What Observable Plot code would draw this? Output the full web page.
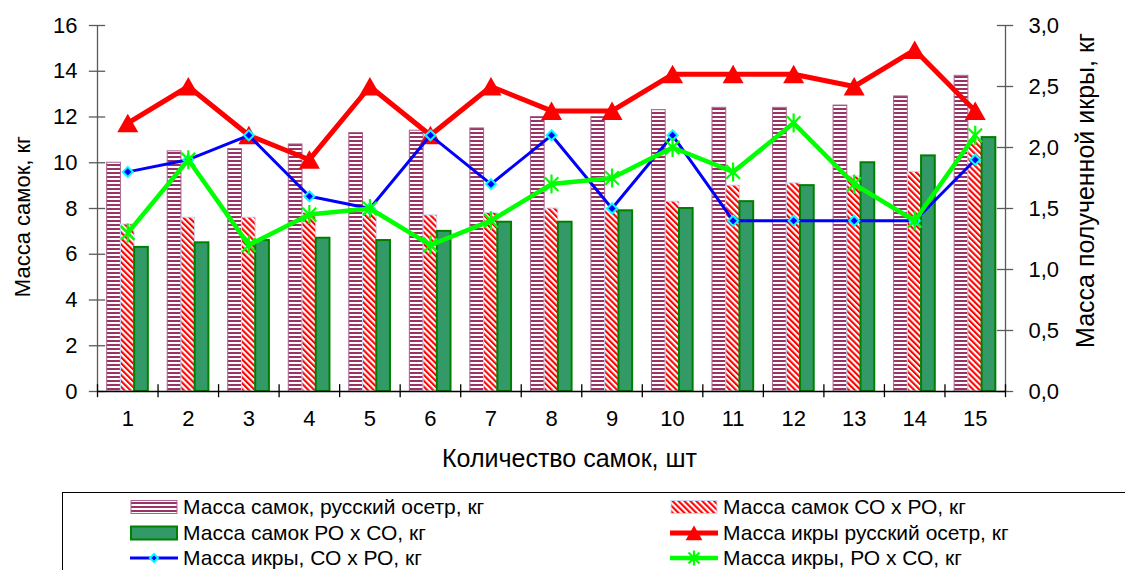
<!DOCTYPE html>
<html>
<head>
<meta charset="utf-8">
<script src="https://cdn.jsdelivr.net/npm/d3@7"></script>
<script src="https://cdn.jsdelivr.net/npm/@observablehq/plot@0.6"></script>
<style>
  html, body { margin: 0; padding: 0; background: #fff; overflow: hidden; }
  body { width: 1125px; height: 570px; position: relative; font-family: "Liberation Sans", Arial, sans-serif; }
  #chart svg { display: block; }
  #legend { position: absolute; left: 62px; top: 492px; width: 1100px; height: 120px;
            border: 1.5px solid #000; box-sizing: border-box; background: #fff; }
  .item { position: absolute; height: 26px; display: flex; align-items: center; white-space: nowrap;
          font-size: 21px; color: #000; }
  .item svg { flex: none; }
  .item span { margin-left: 5px; }
</style>
</head>
<body>
<div id="chart"></div>
<div id="legend"></div>
<script>
// Number of the female (x axis)
const counts = [1, 2, 3, 4, 5, 6, 7, 8, 9, 10, 11, 12, 13, 14, 15];

// Female mass, kg (left axis)
const femaleRussian = [10.0, 10.5, 10.6, 10.8, 11.3, 11.4, 11.5, 12.0, 12.0, 12.3, 12.4, 12.4, 12.5, 12.9, 13.8];
const femaleSoRo    = [7.3, 7.6, 7.6, 7.8, 7.8, 7.7, 7.8, 8.0, 8.0, 8.3, 9.0, 9.1, 9.4, 9.6, 11.0];
const femaleRoSo    = [6.3, 6.5, 6.6, 6.7, 6.6, 7.0, 7.4, 7.4, 7.9, 8.0, 8.3, 9.0, 10.0, 10.3, 11.1];

// Roe mass, kg (right axis)
const roeRussian = [2.2, 2.5, 2.1, 1.9, 2.5, 2.1, 2.5, 2.3, 2.3, 2.6, 2.6, 2.6, 2.5, 2.8, 2.3];
const roeSoRo    = [1.8, 1.9, 2.1, 1.6, 1.5, 2.1, 1.7, 2.1, 1.5, 2.1, 1.4, 1.4, 1.4, 1.4, 1.9];
const roeRoSo    = [1.3, 1.9, 1.2, 1.45, 1.5, 1.2, 1.4, 1.7, 1.75, 2.0, 1.8, 2.2, 1.7, 1.4, 2.1];

const leftTicks  = [0, 2, 4, 6, 8, 10, 12, 14, 16];
const rightTicks = [0, 0.5, 1.0, 1.5, 2.0, 2.5, 3.0];

const seriesNames = {
  femaleRussian: "Масса самок, русский осетр, кг",
  femaleSoRo: "Масса самок СО х РО, кг",
  femaleRoSo: "Масса самок РО х СО, кг",
  roeRussian: "Масса икры русский осетр, кг",
  roeSoRo: "Масса икры, СО х РО, кг",
  roeRoSo: "Масса икры, РО х СО, кг"
};
const titles = {
  left: "Масса самок, кг",
  right: "Масса полученной икры, кг",
  x: "Количество самок, шт"
};

// Right axis values are drawn on the left scale
const leftMax = 16, rightMax = 3;
const K = leftMax / rightMax;

// Bar geometry inside each category (in x units)
const groupStart = -0.34, barW = 0.2267;

// Marker shapes
const triangleUp = { draw(ctx, size) { const r = Math.sqrt(size / Math.PI);
  ctx.moveTo(0, -0.9 * r); ctx.lineTo(r, 0.86 * r); ctx.lineTo(-r, 0.86 * r); ctx.closePath(); } };
const diamond = { draw(ctx, size) { const r = Math.sqrt(size / Math.PI);
  ctx.moveTo(0, -r); ctx.lineTo(r, 0); ctx.lineTo(0, r); ctx.lineTo(-r, 0); ctx.closePath(); } };
const star = { draw(ctx, size) { const r = Math.sqrt(size / Math.PI), q = 0.72 * r;
  ctx.moveTo(0, -r); ctx.lineTo(0, r);
  ctx.moveTo(-q, -q); ctx.lineTo(q, q);
  ctx.moveTo(q, -q); ctx.lineTo(-q, q); } };

const styles = {
  bar1: { fill: "url(#hstripes)", stroke: "#a8628c", strokeWidth: 1 },
  bar2: { fill: "url(#dstripes)", stroke: "#c6d9f1", strokeWidth: 1 },
  bar3: { fill: "#339966", stroke: "#008000", strokeWidth: 2 },
  red:   { line: "#ff0000", width: 5, symbol: triangleUp, r: 10.5, fill: "#ff0000", stroke: "none", sw: 0 },
  blue:  { line: "#0000ff", width: 3, symbol: diamond, r: 5, fill: "#0000ff", stroke: "#00ffff", sw: 2 },
  green: { line: "#00ff00", width: 4.5, symbol: star, r: 9.5, fill: "none", stroke: "#00ff00", sw: 2.2 }
};

function patternDefs() {
  const defs = d3.create("svg:defs");
  const h = defs.append("pattern").attr("id", "hstripes").attr("patternUnits", "userSpaceOnUse")
    .attr("width", 4).attr("height", 4);
  h.append("rect").attr("width", 4).attr("height", 4).attr("fill", "#fff");
  h.append("rect").attr("width", 4).attr("height", 2).attr("fill", "#993366");
  const d = defs.append("pattern").attr("id", "dstripes").attr("patternUnits", "userSpaceOnUse")
    .attr("width", 4.2).attr("height", 10).attr("patternTransform", "rotate(-45)");
  d.append("rect").attr("width", 4.2).attr("height", 10).attr("fill", "#fff");
  d.append("rect").attr("width", 2.1).attr("height", 10).attr("fill", "#ff0000");
  return defs.node();
}

const barRows = (values, k) => values.map((v, i) => ({ n: counts[i], v, k }));
const barMark = (values, k, st) => Plot.rect(barRows(values, k), {
  x1: d => d.n + groupStart + d.k * barW,
  x2: d => d.n + groupStart + (d.k + 1) * barW,
  y1: 0, y2: d => d.v,
  fill: st.fill, stroke: st.stroke, strokeWidth: st.strokeWidth
});
const lineMarks = (values, st) => {
  const rows = values.map((v, i) => ({ n: counts[i], v }));
  return [
    Plot.line(rows, { x: "n", y: d => d.v * K, stroke: st.line, strokeWidth: st.width,
                      strokeLinejoin: "round", strokeLinecap: "butt" }),
    Plot.dot(rows, { x: "n", y: d => d.v * K, symbol: st.symbol, r: st.r,
                     fill: st.fill, stroke: st.stroke, strokeWidth: st.sw })
  ];
};

const axisColor = "#5a5a5a";
const xLo = counts[0] - 0.5, xHi = counts[counts.length - 1] + 0.5;
const boundaries = [xLo, ...counts.map(c => c + 0.5)];
const tickHalf = 0.135;

const chart = Plot.plot({
  width: 1125,
  height: 480,
  marginLeft: 97,
  marginRight: 120,
  marginTop: 25,
  marginBottom: 89,
  style: { fontFamily: "'Liberation Sans', Arial, sans-serif", fontSize: "22px", background: "#fff", color: "#000", overflow: "visible" },
  x: { type: "linear", domain: [xLo, xHi], axis: null },
  y: { domain: [0, leftMax], axis: null },
  marks: [
    patternDefs,
    barMark(femaleRussian, 0, styles.bar1),
    barMark(femaleSoRo, 1, styles.bar2),
    barMark(femaleRoSo, 2, styles.bar3),
    // axis lines and cross ticks
    Plot.ruleX([xLo], { stroke: axisColor, strokeWidth: 1.3 }),
    Plot.ruleX([xHi], { stroke: axisColor, strokeWidth: 1.3 }),
    Plot.ruleY(leftTicks, { x1: xLo - tickHalf, x2: xLo + tickHalf, stroke: axisColor, strokeWidth: 1.3 }),
    Plot.ruleY(rightTicks.map(v => v * K), { x1: xHi - tickHalf, x2: xHi + tickHalf, stroke: axisColor, strokeWidth: 1.3 }),
    Plot.ruleY([0], { x1: xLo, x2: xHi, stroke: "#000", strokeWidth: 1.5 }),
    Plot.ruleX(boundaries, { y1: -0.27, y2: 0.3, stroke: "#000", strokeWidth: 1.3 }),
    // series lines
    ...lineMarks(roeRussian, styles.red),
    ...lineMarks(roeSoRo, styles.blue),
    ...lineMarks(roeRoSo, styles.green),
    // tick labels
    Plot.axisY(leftTicks, { anchor: "left", tickSize: 0, tickPadding: 20, label: null }),
    Plot.axisY(rightTicks.map(v => v * K), { anchor: "right", tickSize: 0, tickPadding: 23, label: null,
      tickFormat: d => (d / K).toFixed(1).replace(".", ",") }),
    Plot.axisX(counts, { tickSize: 0, tickPadding: 19, label: null }),
    // axis titles
    Plot.text([titles.left], { frameAnchor: "left", textAnchor: "middle", lineAnchor: "middle",
      rotate: -90, dx: -75, dy: 8, fontSize: 22, fill: "#000" }),
    Plot.text([titles.right], { frameAnchor: "right", textAnchor: "middle", lineAnchor: "middle",
      rotate: -90, dx: 80, dy: -18, fontSize: 25, fill: "#000" }),
    Plot.text([titles.x], { frameAnchor: "bottom", textAnchor: "middle", lineAnchor: "middle",
      dx: 18, dy: 67, fontSize: 25, fill: "#000" })
  ]
});
document.getElementById("chart").append(chart);

// Legend below the chart
const legendItems = [
  { key: "femaleRussian", kind: "bar", st: styles.bar1, x: 130, y: 507 },
  { key: "femaleSoRo",    kind: "bar", st: styles.bar2, x: 670, y: 507 },
  { key: "femaleRoSo",    kind: "bar", st: styles.bar3, x: 130, y: 533 },
  { key: "roeRussian",    kind: "line", st: styles.red,  x: 670, y: 533 },
  { key: "roeSoRo",       kind: "line", st: styles.blue, x: 130, y: 558 },
  { key: "roeRoSo",       kind: "line", st: styles.green, x: 670, y: 558 }
];
const body = d3.select("body");
for (const it of legendItems) {
  const div = body.append("div").attr("class", "item")
    .style("left", it.x + "px").style("top", (it.y - 13) + "px");
  const svg = div.append("svg").attr("width", 48).attr("height", 26);
  if (it.kind === "bar") {
    svg.append("rect").attr("x", 1).attr("y", 6.5).attr("width", 46).attr("height", 13)
      .attr("fill", it.st.fill).attr("stroke", it.st.stroke).attr("stroke-width", it.st.strokeWidth);
  } else {
    svg.append("line").attr("x1", 0).attr("x2", 48).attr("y1", 13).attr("y2", 13)
      .attr("stroke", it.st.line).attr("stroke-width", it.st.width);
    const p = d3.path();
    it.st.symbol.draw(p, it.st.r * 0.8 * it.st.r * 0.8 * Math.PI);
    svg.append("path").attr("d", p.toString()).attr("transform", "translate(24,13)")
      .attr("fill", it.st.fill).attr("stroke", it.st.stroke).attr("stroke-width", it.st.sw);
  }
  div.append("span").text(seriesNames[it.key]);
}
</script>
</body>
</html>
